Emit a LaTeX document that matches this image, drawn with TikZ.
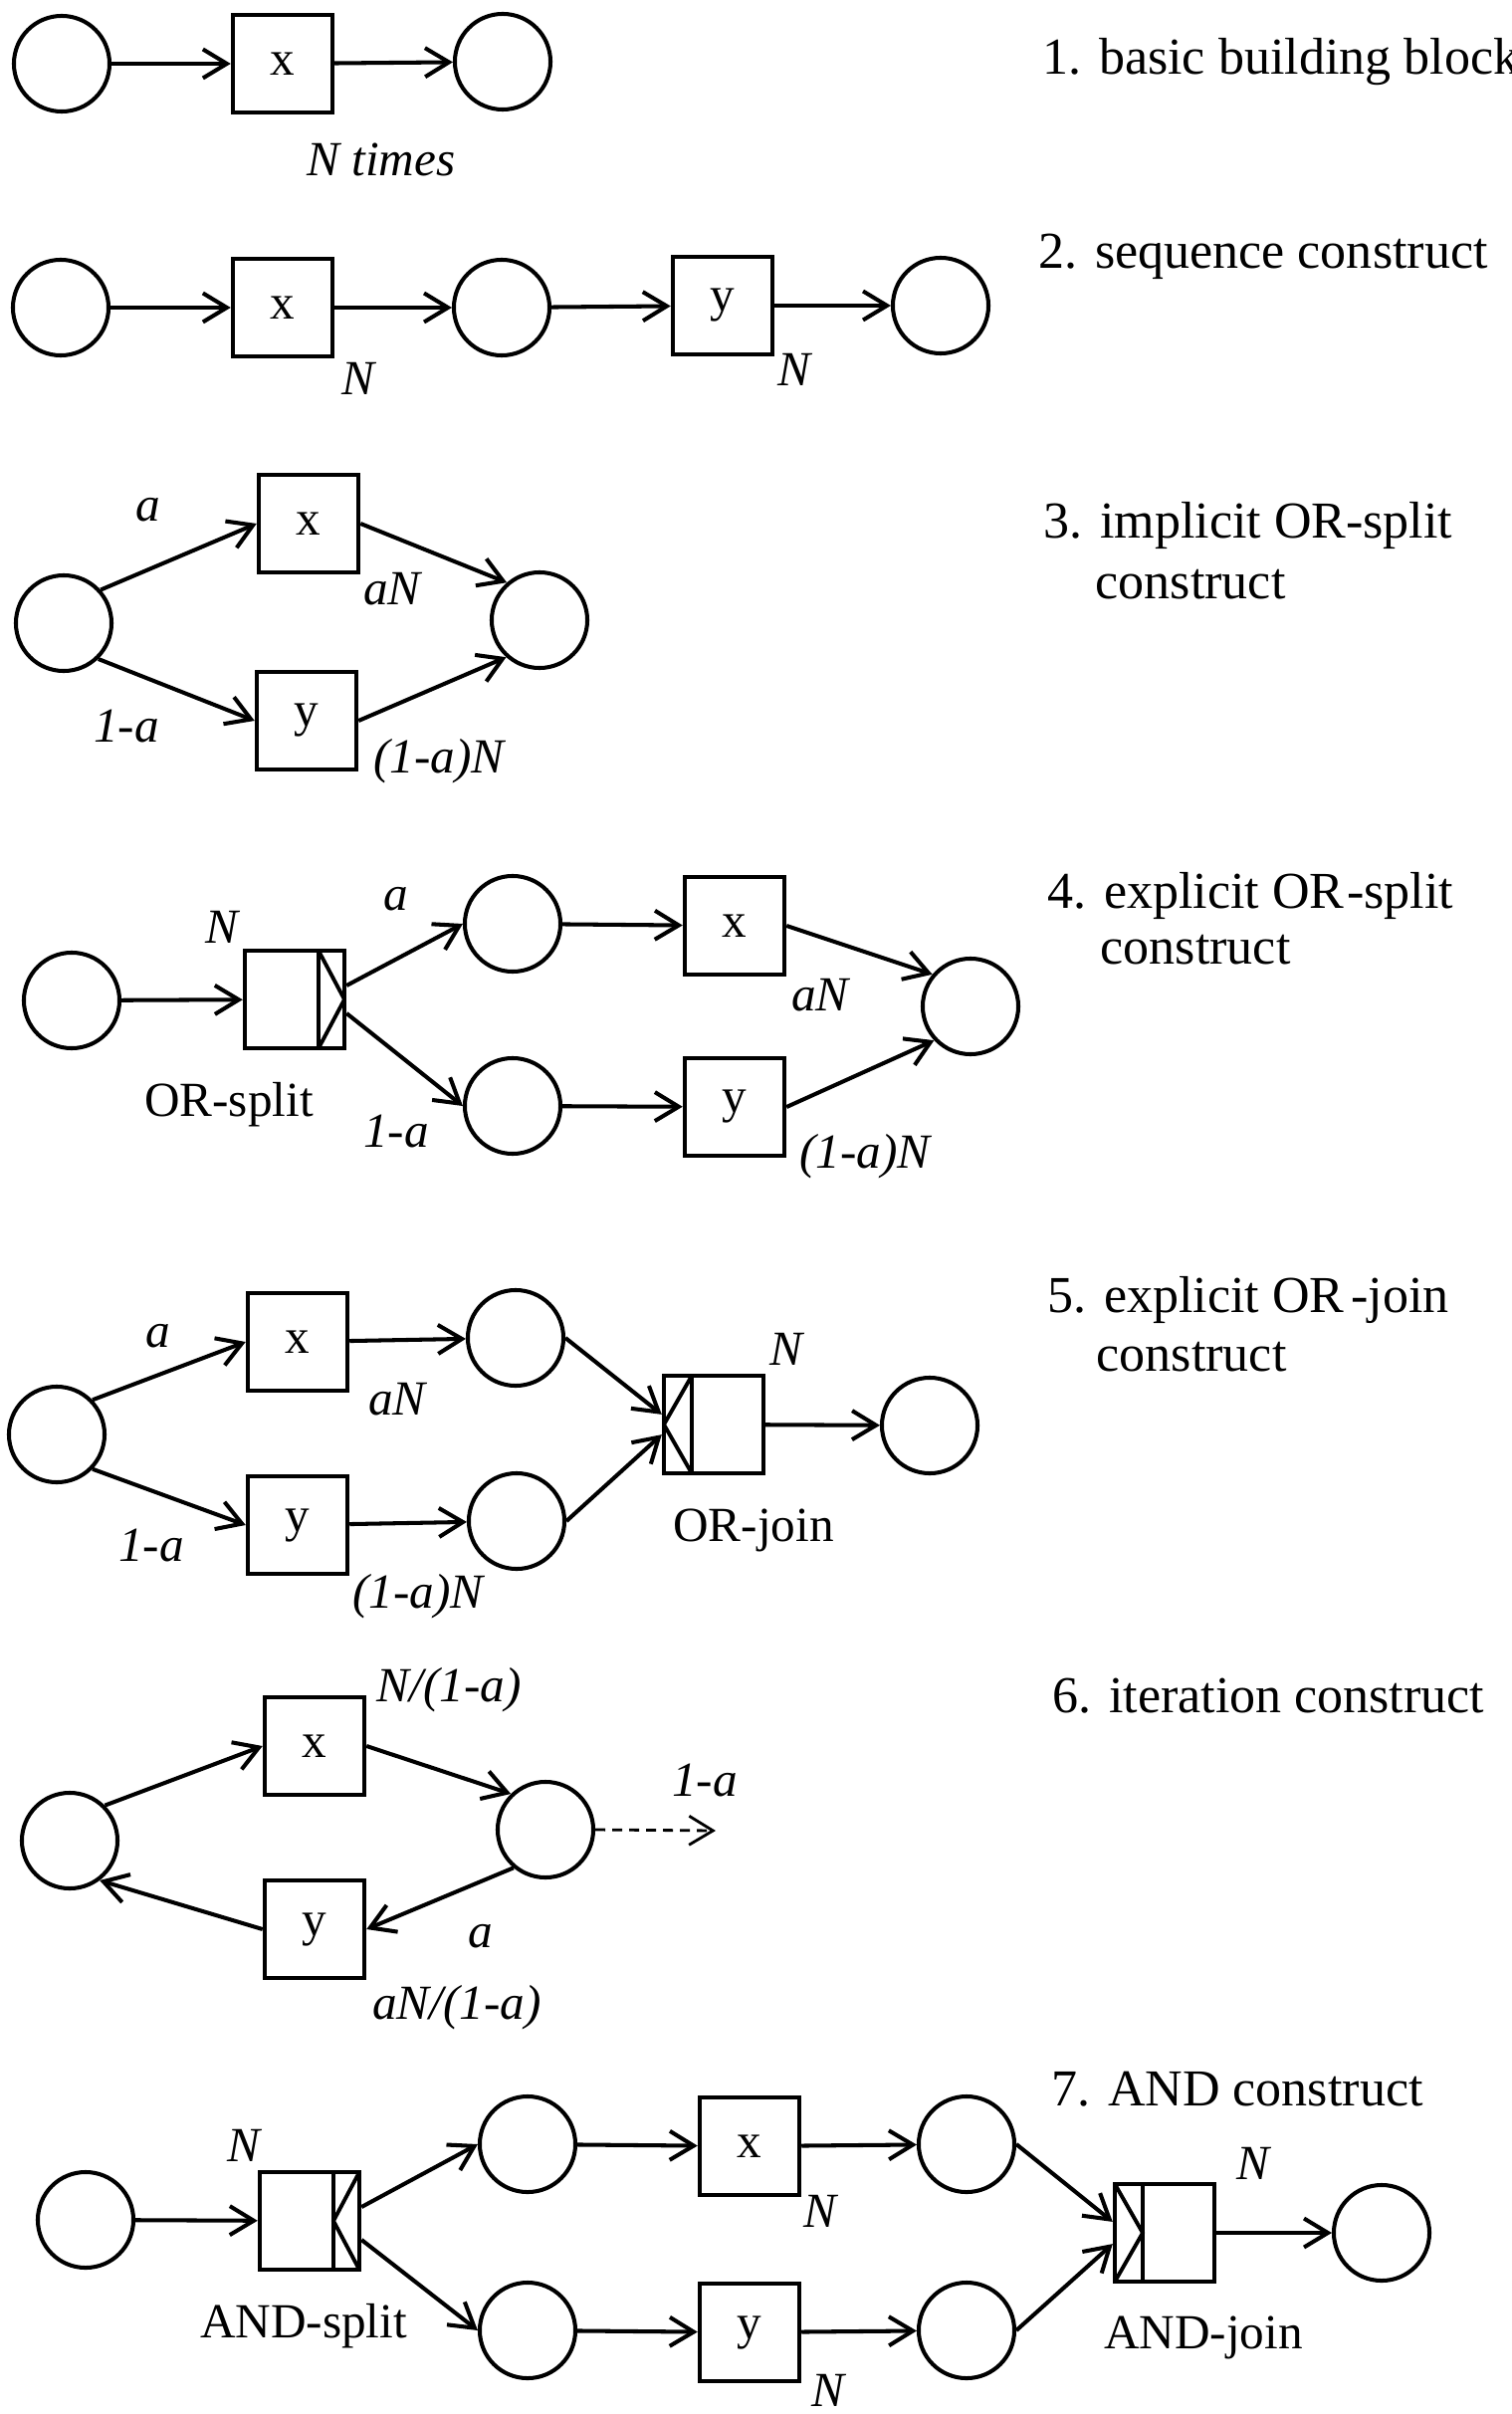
\documentclass[tikz,border=0pt]{standalone}
\usepackage{fontspec}
\setmainfont{Liberation Serif}
\usetikzlibrary{arrows.meta}

\begin{document}
\begin{tikzpicture}[
    x=0.01cm, y=-0.01cm,
    >={Straight Barb[length=2.4mm,width=2.9mm]},
    % Net elements
    place/.style={
      circle, draw, line width=1.15pt,
      minimum size=0.96cm, inner sep=0pt
    },
    task/.style={
      rectangle, draw, line width=1.25pt,
      minimum width=1cm, minimum height=0.98cm,
      inner sep=0pt, font=\fontsize{14}{16}\selectfont
    },
    % Routing tasks (split on the right, join on the left)
    or-split/.style={task, path picture={
        \draw[line width=1.1pt] ([xshift=-0.26cm]path picture bounding box.north east) -- ([xshift=-0.26cm]path picture bounding box.south east);
        \draw[line width=1.1pt] ([xshift=-0.26cm]path picture bounding box.north east) -- (path picture bounding box.east) -- ([xshift=-0.26cm]path picture bounding box.south east);
      }},
    and-split/.style={task, path picture={
        \draw[line width=1.1pt] ([xshift=-0.26cm]path picture bounding box.north east) -- ([xshift=-0.26cm]path picture bounding box.south east);
        \draw[line width=1.1pt] (path picture bounding box.north east) -- ([xshift=-0.26cm]path picture bounding box.east) -- (path picture bounding box.south east);
      }},
    or-join/.style={task, path picture={
        \draw[line width=1.1pt] ([xshift=0.28cm]path picture bounding box.north west) -- ([xshift=0.28cm]path picture bounding box.south west);
        \draw[line width=1.1pt] ([xshift=0.28cm]path picture bounding box.north west) -- (path picture bounding box.west) -- ([xshift=0.28cm]path picture bounding box.south west);
      }},
    and-join/.style={task, path picture={
        \draw[line width=1.1pt] ([xshift=0.28cm]path picture bounding box.north west) -- ([xshift=0.28cm]path picture bounding box.south west);
        \draw[line width=1.1pt] (path picture bounding box.north west) -- ([xshift=0.28cm]path picture bounding box.west) -- (path picture bounding box.south west);
      }},
    % Connectors and texts
    flow/.style={->, line width=1.15pt},
    leave/.style={->, line width=0.8pt, dash pattern=on 1mm off 0.7mm},
    lbl/.style={inner sep=0pt, font=\fontsize{14}{16}\selectfont\itshape},
    gatename/.style={inner sep=0pt, font=\fontsize{14}{16}\selectfont},
    caption/.style={anchor=base west, inner sep=0pt, font=\fontsize{14.8}{17}\selectfont},
  ]
  \useasboundingbox (0,0) rectangle (1519,2425);

  % === 1. Basic building block ===
  \node[place] (p1a) at (62,64) {};
  \node[task] (x1) at (284,64) {x};
  \node[place] (p1b) at (505,62) {};
  \draw[flow] (p1a) -- (x1);
  \draw[flow] (x1) -- (p1b);
  \node[lbl] (n1) at (383,160) {N times};
  \node[caption] (cap1) at (1047,75) {1. basic building block};

  % === 2. Sequence ===
  \node[place] (p2a) at (61,309) {};
  \node[task] (x2) at (284,309) {x};
  \node[place] (p2b) at (504,309) {};
  \node[task] (y2) at (726,307) {y};
  \node[place] (p2c) at (945,307) {};
  \draw[flow] (p2a) -- (x2);
  \draw[flow] (x2) -- (p2b);
  \draw[flow] (p2b) -- (y2);
  \draw[flow] (y2) -- (p2c);
  \node[lbl] (n2a) at (360,380) {N};
  \node[lbl] (n2b) at (798,371) {N};
  \node[caption] (cap2) at (1043,270) {2. sequence construct};

  % === 3. Implicit OR-split ===
  \node[place] (p3a) at (64,626) {};
  \node[task] (x3) at (310,526) {x};
  \node[task] (y3) at (308,724) {y};
  \node[place] (p3b) at (542,623) {};
  \draw[flow] (p3a.42) -- (x3.west);
  \draw[flow] (p3a.-46) -- (y3.west);
  \draw[flow] (x3.east) -- (p3b.131);
  \draw[flow] (y3.east) -- (p3b.-132);
  \node[lbl] (a3) at (149,512) {a};
  \node[lbl] (b3) at (127,730) {1-a};
  \node[lbl] (n3a) at (394,592) {aN};
  \node[lbl] (n3b) at (441,765) {(1-a)N};
  \node[caption] (cap3a) at (1048,541) {3. implicit OR-split};
  \node[caption] (cap3b) at (1100,602) {construct};

  % === 4. Explicit OR-split ===
  \node[place] (p4a) at (72,1005) {};
  \node[or-split] (s4) at (296,1004) {};
  \node[place] (p4b) at (515,928) {};
  \node[place] (p4c) at (515,1111) {};
  \node[task] (x4) at (738,930) {x};
  \node[task] (y4) at (738,1112) {y};
  \node[place] (p4d) at (975,1011) {};
  \draw[flow] (p4a) -- (s4);
  \draw[flow] (s4.15) -- (p4b.west);
  \draw[flow] (s4.-15) -- (p4c.west);
  \draw[flow] (p4b) -- (x4);
  \draw[flow] (p4c) -- (y4);
  \draw[flow] (x4.east) -- (p4d.140);
  \draw[flow] (y4.east) -- (p4d.-137);
  \node[lbl] (n4) at (223,931) {N};
  \node[lbl] (a4) at (398,903) {a};
  \node[gatename] (g4) at (230,1110) {OR-split};
  \node[lbl] (b4) at (398,1136) {1-a};
  \node[lbl] (n4a) at (824,1000) {aN};
  \node[lbl] (n4b) at (869,1162) {(1-a)N};
  \node[caption] (cap4a) at (1052,912) {4. explicit OR\kern0.8pt-split};
  \node[caption] (cap4b) at (1105,968) {construct};

  % === 5. Explicit OR-join ===
  \node[place] (p5a) at (57,1441) {};
  \node[task] (x5) at (299,1348) {x};
  \node[task] (y5) at (299,1532) {y};
  \node[place] (p5b) at (518,1344) {};
  \node[place] (p5c) at (519,1528) {};
  \node[or-join] (j5) at (717,1431) {};
  \node[place] (p5d) at (934,1432) {};
  \draw[flow] (p5a.44) -- (x5.west);
  \draw[flow] (p5a.-44) -- (y5.west);
  \draw[flow] (x5) -- (p5b);
  \draw[flow] (y5) -- (p5c);
  \draw[flow] (p5b.east) -- (j5.169);
  \draw[flow] (p5c.east) -- (j5.191);
  \draw[flow] (j5) -- (p5d);
  \node[lbl] (a5) at (159,1342) {a};
  \node[lbl] (b5) at (152,1552) {1-a};
  \node[lbl] (n5a) at (399,1406) {aN};
  \node[lbl] (n5b) at (420,1604) {(1-a)N};
  \node[lbl] (n5) at (790,1355) {N};
  \node[gatename] (g5) at (757,1537) {OR-join};
  \node[caption] (cap5a) at (1052,1318) {5. explicit OR\kern2pt-join};
  \node[caption] (cap5b) at (1101,1377) {construct};

  % === 6. Iteration ===
  \node[place] (p6a) at (70,1849) {};
  \node[task] (x6) at (316,1754) {x};
  \node[task] (y6) at (316,1938) {y};
  \node[place] (p6b) at (548,1838) {};
  \coordinate (out6) at (719,1839);
  \draw[flow] (p6a.45) -- (x6.west);
  \draw[flow] (x6.east) -- (p6b.134);
  \draw[flow] (p6b.-130) -- (y6.east);
  \draw[flow] (y6.west) -- (p6a.-53);
  \draw[leave] (p6b.east) -- (out6);
  \node[lbl] (n6a) at (451,1698) {N/(1-a)};
  \node[lbl] (b6) at (708,1788) {1-a};
  \node[lbl] (a6) at (483,1945) {a};
  \node[lbl] (n6b) at (459,2017) {aN/(1-a)};
  \node[caption] (cap6) at (1057,1720) {6. iteration construct};

  % === 7. AND-split and AND-join ===
  \node[place] (p7a) at (86,2230) {};
  \node[and-split] (s7) at (311,2231) {};
  \node[place] (p7b) at (530,2154) {};
  \node[place] (p7c) at (530,2341) {};
  \node[task] (x7) at (753,2156) {x};
  \node[task] (y7) at (753,2343) {y};
  \node[place] (p7d) at (971,2154) {};
  \node[place] (p7e) at (971,2341) {};
  \node[and-join] (j7) at (1170,2243) {};
  \node[place] (p7f) at (1388,2243) {};
  \draw[flow] (p7a) -- (s7);
  \draw[flow] (s7.15) -- (p7b.west);
  \draw[flow] (s7.-20) -- (p7c.west);
  \draw[flow] (p7b) -- (x7);
  \draw[flow] (p7c) -- (y7);
  \draw[flow] (x7) -- (p7d);
  \draw[flow] (y7) -- (p7e);
  \draw[flow] (p7d.east) -- (j7.168);
  \draw[flow] (p7e.east) -- (j7.192);
  \draw[flow] (j7) -- (p7f);
  \node[lbl] (n7a) at (245,2155) {N};
  \node[gatename] (g7a) at (305,2337) {AND-split};
  \node[lbl] (n7b) at (824,2221) {N};
  \node[lbl] (n7c) at (832,2401) {N};
  \node[lbl] (n7d) at (1259,2173) {N};
  \node[gatename] (g7b) at (1209,2348) {AND-join};
  \node[caption] (cap7) at (1056,2115) {7. AND construct};

\end{tikzpicture}
\end{document}
